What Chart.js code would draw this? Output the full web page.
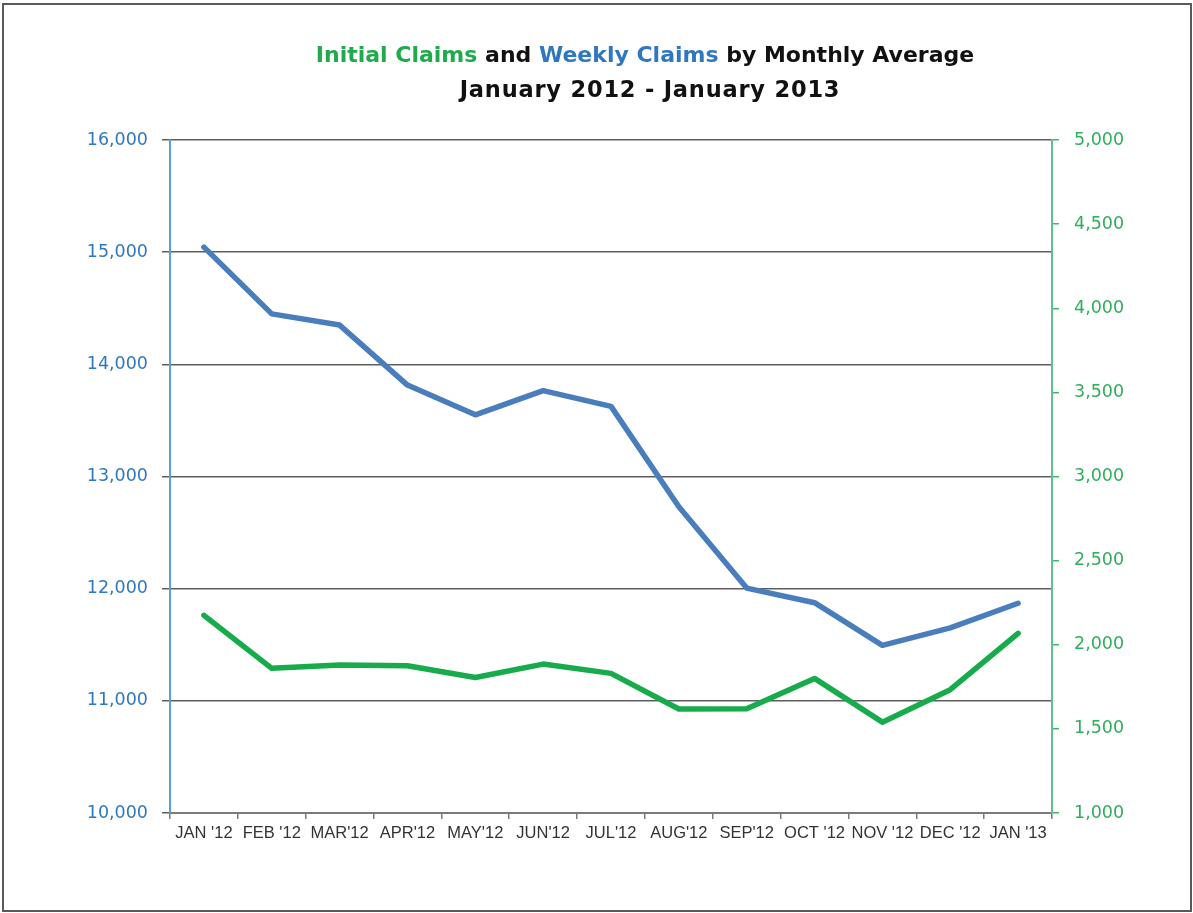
<!DOCTYPE html>
<html>
<head>
<meta charset="utf-8">
<script src="https://cdn.jsdelivr.net/npm/chart.js@4.4.1/dist/chart.umd.min.js"></script>
<style>
  html, body { margin: 0; padding: 0; background: #ffffff; }
  #wrap { position: relative; width: 1193px; height: 913px; overflow: hidden; }
  #frame { position: absolute; left: 2px; top: 3px; width: 1186px; height: 905px; border: 2px solid #5a5a5a; box-sizing: content-box; pointer-events: none; }
  #title { position: absolute; left: 245px; width: 800px; top: 37px; text-align: center; font-family: "DejaVu Sans", sans-serif; font-weight: bold; font-size: 22px; line-height: 35px; color: #111; }
  #title .l2 { font-size: 22.5px; letter-spacing: 0.8px; position: relative; left: 5px; }
  .g { color: #1faa4c; }
  .b { color: #2f78c0; }
  canvas { position: absolute; left: 0; top: 0; }
</style>
</head>
<body>
<div id="wrap">
  <canvas id="c" width="1193" height="913"></canvas>
  <div id="title">
    <div><span class="g">Initial Claims</span> and <span class="b">Weekly Claims</span> by Monthly Average</div>
    <div class="l2">January 2012 - January 2013</div>
  </div>
  <div id="frame"></div>
</div>
<script>
const categories = ["JAN '12", "FEB '12", "MAR'12", "APR'12", "MAY'12", "JUN'12", "JUL'12", "AUG'12", "SEP'12", "OCT '12", "NOV '12", "DEC '12", "JAN '13"];
const weeklyClaims = [15045, 14450, 14350, 13815, 13550, 13765, 13625, 12730, 12005, 11875, 11495, 11650, 11870];
const initialClaims = [2175, 1860, 1880, 1875, 1805, 1885, 1830, 1618, 1620, 1800, 1540, 1733, 2068];
const leftAxisMin = 10000, leftAxisMax = 16000, leftAxisStep = 1000;
const rightAxisMin = 1000, rightAxisMax = 5000, rightAxisStep = 500;

const fmt = v => Number(v).toLocaleString('en-US');

new Chart(document.getElementById('c'), {
  type: 'line',
  data: {
    labels: categories,
    datasets: [
      { label: 'Weekly Claims', data: weeklyClaims, yAxisID: 'yL', borderColor: '#4a7dbb', borderWidth: 5.5, pointRadius: 0, tension: 0, borderCapStyle: 'round', borderJoinStyle: 'round' },
      { label: 'Initial Claims', data: initialClaims, yAxisID: 'yR', borderColor: '#17ab4b', borderWidth: 5.5, pointRadius: 0, tension: 0, borderCapStyle: 'round', borderJoinStyle: 'round' }
    ]
  },
  options: {
    responsive: false,
    animation: false,
    devicePixelRatio: 1,
    layout: { padding: { top: 140, left: 0, right: 0, bottom: 0 } },
    plugins: { legend: { display: false }, title: { display: false }, tooltip: { enabled: false } },
    scales: {
      x: {
        type: 'category',
        offset: true,
        grid: { offset: true, drawOnChartArea: false, drawTicks: true, tickLength: 6, color: '#7a7a7a', lineWidth: 1.5 },
        border: { color: '#7a7a7a', width: 2 },
        ticks: { autoSkip: false, maxRotation: 0, minRotation: 0, padding: 5, color: '#333333', font: { family: 'Liberation Sans, Arial, sans-serif', size: 16.5 } },
        afterFit: s => { s.height = 100; }
      },
      yL: {
        position: 'left',
        min: leftAxisMin, max: leftAxisMax,
        grid: { color: '#5e5e5e', lineWidth: 1.5, tickLength: 8 },
        border: { color: '#5aa0d8', width: 2 },
        ticks: { stepSize: leftAxisStep, padding: 14, color: '#2f78c0', font: { family: 'DejaVu Sans, sans-serif', size: 17.5 }, callback: v => fmt(v) },
        afterFit: s => { s.width = 170; }
      },
      yR: {
        position: 'right',
        min: rightAxisMin, max: rightAxisMax,
        grid: { drawOnChartArea: false, color: '#3cb86a', lineWidth: 1.5, tickLength: 7 },
        border: { color: '#5cc48a', width: 2 },
        ticks: { stepSize: rightAxisStep, padding: 15, color: '#2fae5c', font: { family: 'DejaVu Sans, sans-serif', size: 17.5 }, callback: v => fmt(v) },
        afterFit: s => { s.width = 141; }
      }
    }
  }
});
</script>
</body>
</html>
